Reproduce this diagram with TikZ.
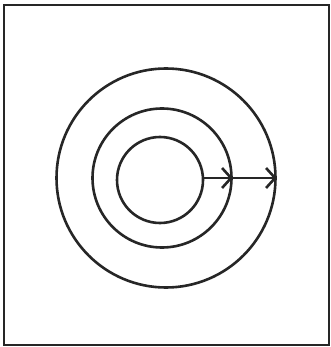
\documentclass[tikz,border=0pt]{standalone}
\usetikzlibrary{arrows.meta}
\begin{document}
\begin{tikzpicture}[x=1pt,y=-1pt,
  ring/.style={circle,draw=black!85,line width=2.6pt,inner sep=0pt},
  conn/.style={draw=black!85,line width=2.4pt,-{Straight Barb[length=9pt,width=20pt,line width=2.6pt]}}]
\useasboundingbox (0,0) rectangle (330,347);
\draw[line width=1.6pt,black!85] (4,5) rectangle (329,345);
\node[ring,minimum size=219pt] (outer) at (166,178) {};
\node[ring,minimum size=139pt] (middle) at (162,178) {};
\node[ring,minimum size=86pt] (inner) at (160,180) {};
\coordinate (a) at (inner.east |- middle.east);
\coordinate (b) at (middle.east);
\coordinate (c) at (outer.east);
\draw[conn] (a) -- (b);
\draw[conn] (b) -- (c);
\end{tikzpicture}
\end{document}
